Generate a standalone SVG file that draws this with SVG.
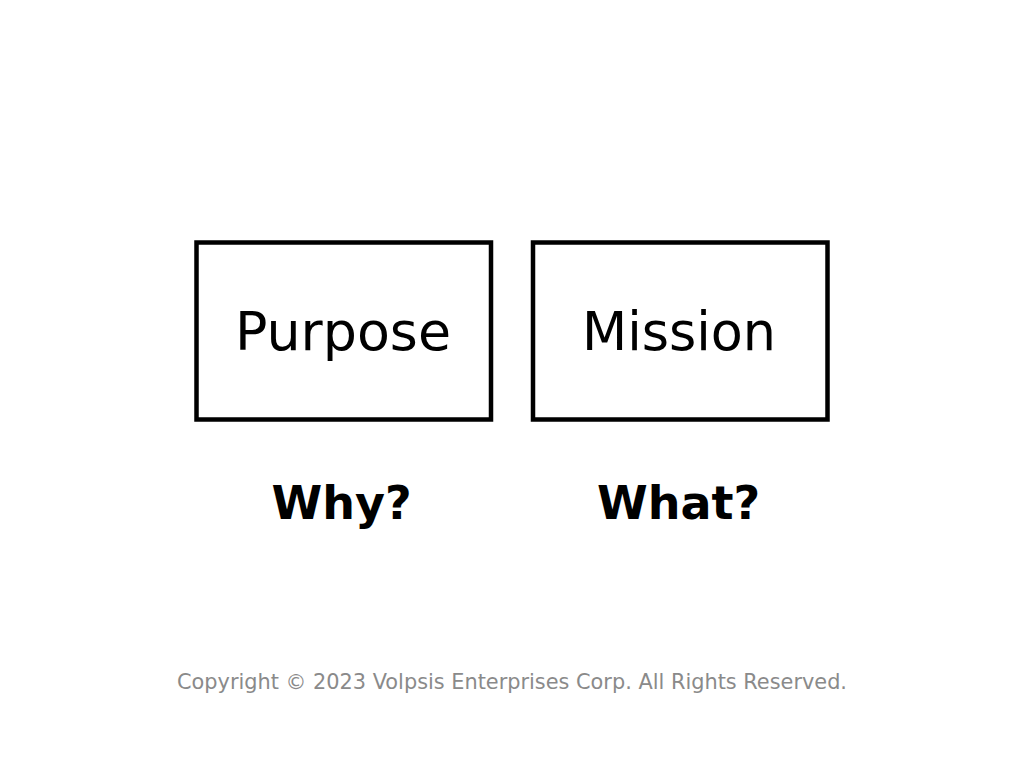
<svg xmlns="http://www.w3.org/2000/svg" width="1024" height="768" viewBox="0 0 1024 768">
<style>
.box{fill:#fff;stroke:#000;stroke-width:4.5}
.lbl{font-family:"DejaVu Sans","Liberation Sans",sans-serif;font-size:54px;fill:#000;text-anchor:middle}
.q{font-family:"DejaVu Sans","Liberation Sans",sans-serif;font-size:46px;font-weight:bold;fill:#000;text-anchor:middle}
.copy{font-family:"DejaVu Sans","Liberation Sans",sans-serif;font-size:20.5px;fill:#8a8a8a;text-anchor:middle}
</style>
<rect width="1024" height="768" fill="#fff"/>
<g id="purpose">
<rect class="box" x="196.5" y="242.5" width="294.5" height="177"/>
<text class="lbl" x="343" y="350" textLength="216" lengthAdjust="spacingAndGlyphs">Purpose</text>
</g>
<g id="mission">
<rect class="box" x="533" y="242.5" width="294.5" height="177"/>
<text class="lbl" x="679" y="350" textLength="194" lengthAdjust="spacingAndGlyphs">Mission</text>
</g>
<g id="connectors"></g>
<g id="why"><text class="q" x="341.5" y="519">Why?</text></g>
<g id="what"><text class="q" x="678.5" y="519">What?</text></g>
<g id="copyright"><text class="copy" x="512" y="689" textLength="670" lengthAdjust="spacingAndGlyphs">Copyright © 2023 Volpsis Enterprises Corp. All Rights Reserved.</text></g>
</svg>
